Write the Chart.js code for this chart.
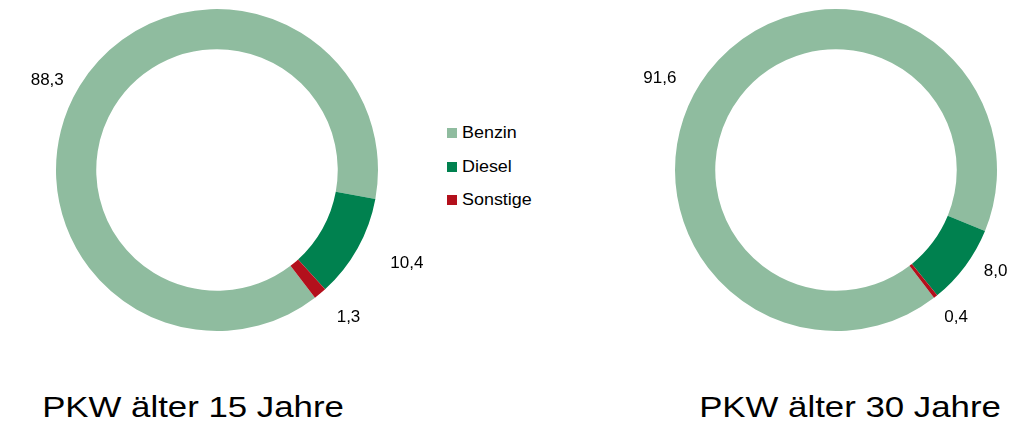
<!DOCTYPE html>
<html>
<head>
<meta charset="utf-8">
<script src="https://cdn.jsdelivr.net/npm/chart.js@4.4.1/dist/chart.umd.min.js"></script>
<style>
  html, body { margin: 0; padding: 0; background: #fff; }
  body { width: 1014px; height: 429px; position: relative; overflow: hidden; font-family: "Liberation Sans", Arial, sans-serif; }
  .box { position: absolute; top: 0; width: 434px; height: 340px; }
  .titel { position: absolute; top: 390px; font-size: 30px; color: #000; white-space: nowrap; transform: translateX(-50%) scaleX(1.16); }
  #legende { position: absolute; left: 447px; top: 124px; font-size: 16px; color: #000; }
  #legende div { height: 33.5px; display: flex; align-items: flex-start; }
  #legende span.q { display: inline-block; width: 10px; height: 10px; margin: 4px 5px 0 0; }
  #legende span.t { display: inline-block; transform: scaleX(1.12); transform-origin: left center; }
</style>
</head>
<body>
<div class="box" style="left:0"><canvas id="pkw15"></canvas></div>
<div class="box" style="left:619px"><canvas id="pkw30"></canvas></div>
<div id="legende"></div>
<div class="titel" style="left:193px">PKW älter 15 Jahre</div>
<div class="titel" style="left:850px">PKW älter 30 Jahre</div>
<script>
const kraftstoffe = ["Benzin", "Diesel", "Sonstige"];
const anteile15 = [88.3, 10.4, 1.3];
const anteile30 = [91.6, 8.0, 0.4];
const farben = ["#8fbc9f", "#00814f", "#b3101c"];

// legende als html, aus denselben arrays
const leg = document.getElementById("legende");
kraftstoffe.forEach((k, i) => {
  const d = document.createElement("div");
  d.innerHTML = '<span class="q" style="background:' + farben[i] + '"></span><span class="t">' + k + '</span>';
  leg.appendChild(d);
});

// werte aussen an den ring schreiben (deutsches komma)
const wertLabels = {
  id: "wertLabels",
  afterDatasetsDraw(chart, args, opts) {
    const ctx = chart.ctx;
    const arcs = chart.getDatasetMeta(0).data;
    const werte = chart.data.datasets[0].data;
    ctx.save();
    ctx.font = "17px 'Liberation Sans', Arial, sans-serif";
    ctx.fillStyle = "#000";
    ctx.textAlign = "center";
    ctx.textBaseline = "middle";
    arcs.forEach((a, i) => {
      const mid = (a.startAngle + a.endAngle) / 2;
      const r = a.outerRadius + 38;
      const off = opts.versatz[i] || [0, 0];
      const x = a.x + Math.cos(mid) * r + off[0];
      const y = a.y + Math.sin(mid) * r + off[1];
      ctx.fillText(werte[i].toFixed(1).replace(".", ","), x, y);
    });
    ctx.restore();
  }
};

function ring(id, werte, versatz) {
  new Chart(document.getElementById(id), {
    type: "doughnut",
    data: {
      labels: kraftstoffe,
      datasets: [{
        data: werte,
        backgroundColor: farben,
        borderWidth: 0
      }]
    },
    options: {
      responsive: true,
      maintainAspectRatio: false,
      animation: false,
      rotation: 142.5,
      cutout: "75%",
      layout: { padding: { top: 9, bottom: 9 } },
      plugins: {
        legend: { display: false },
        tooltip: { enabled: false },
        wertLabels: { versatz: versatz }
      }
    },
    plugins: [wertLabels]
  });
}

ring("pkw15", anteile15, [[0, 14], [16, -3], [4, -5]]);
ring("pkw30", anteile30, [[-18, 29], [0, -18], [-3, -9]]);
</script>
</body>
</html>
